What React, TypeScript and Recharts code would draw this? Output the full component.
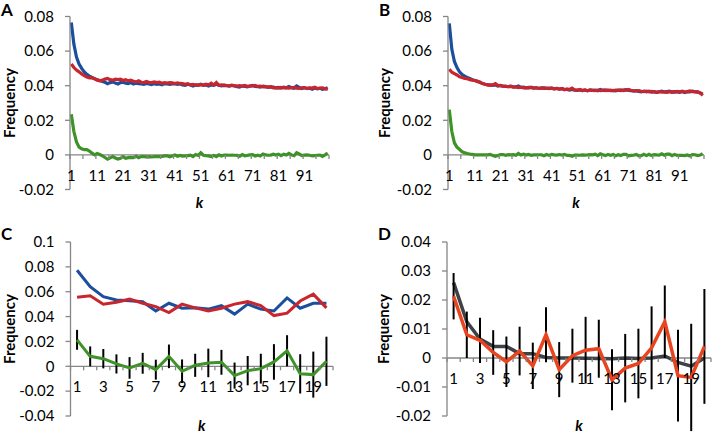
import React from "react";
import {
  LineChart,
  Line,
  XAxis,
  YAxis,
  ReferenceLine,
  ErrorBar,
} from "recharts";

// ---- panel A (k = 1..100) ----
const aBlue = [
  0.0765, 0.064, 0.0565, 0.0525, 0.05, 0.048, 0.0465, 0.0455, 0.0448, 0.044,
  0.0435, 0.043, 0.0425, 0.042, 0.0412, 0.0418, 0.0422, 0.0415, 0.041, 0.0418,
  0.042, 0.0415, 0.0412, 0.0418, 0.041, 0.0415, 0.0412, 0.041, 0.0408, 0.0413,
  0.041, 0.0406, 0.0412, 0.0408, 0.041, 0.0405, 0.0412, 0.041, 0.0407, 0.041,
  0.0412, 0.0408, 0.041, 0.0405, 0.0402, 0.0408, 0.0404, 0.0398, 0.0405, 0.0402,
  0.0408, 0.0402, 0.0404, 0.0398, 0.0405, 0.0402, 0.0408, 0.0403, 0.0399, 0.0402,
  0.04, 0.0397, 0.0402, 0.0398, 0.0395, 0.0392, 0.0399, 0.0396, 0.0393, 0.0398,
  0.0401, 0.0396, 0.0394, 0.0392, 0.0398, 0.0395, 0.039, 0.0393, 0.0392, 0.0388,
  0.039, 0.0386, 0.0392, 0.0388, 0.0395, 0.0388, 0.0385, 0.0398, 0.039, 0.0384,
  0.0388, 0.0384, 0.0386, 0.038, 0.0387, 0.0382, 0.0385, 0.0379, 0.0382, 0.0389,
];
const aRed = [
  0.0525, 0.0505, 0.049, 0.048, 0.0468, 0.0458, 0.045, 0.0445, 0.0445, 0.044,
  0.0432, 0.0428, 0.0432, 0.0438, 0.0442, 0.0435, 0.0432, 0.0438, 0.0435, 0.0438,
  0.043, 0.0435, 0.0428, 0.0432, 0.0426, 0.0422, 0.0428, 0.042, 0.0418, 0.0424,
  0.042, 0.0418, 0.0422, 0.0418, 0.042, 0.0414, 0.0418, 0.0415, 0.0418, 0.0416,
  0.0412, 0.0416, 0.0413, 0.0412, 0.0408, 0.0412, 0.0405, 0.0408, 0.0403, 0.0405,
  0.0406, 0.0404, 0.0409, 0.0404, 0.0415, 0.0405, 0.0418, 0.0402, 0.0405, 0.0403,
  0.0401, 0.0399, 0.0403, 0.04, 0.0398, 0.04, 0.0397, 0.0401, 0.0396, 0.0398,
  0.0399, 0.0402, 0.0396, 0.0398, 0.0393, 0.0395, 0.0392, 0.0394, 0.0388, 0.0389,
  0.0386, 0.039, 0.0388, 0.0389, 0.0386, 0.0388, 0.039, 0.0386, 0.0385, 0.0388,
  0.0389, 0.0384, 0.0388, 0.0386, 0.0391, 0.0384, 0.0386, 0.0388, 0.0382, 0.0379,
];
const aGreen = [
  0.0235, 0.0135, 0.0075, 0.0045, 0.0035, 0.003, 0.003, 0.0022, 0.001, 0.0,
  0.0008, 0.0002, -0.0006, -0.0015, -0.0025, -0.0017, -0.001, -0.0018, -0.0024, -0.002,
  -0.001, -0.002, -0.0016, -0.0014, -0.0016, -0.0007, -0.0016, -0.001, -0.001, -0.0011,
  -0.001, -0.0012, -0.001, -0.001, -0.001, -0.0009, -0.0006, -0.0005, -0.0011, -0.0006,
  0.0, -0.0008, -0.0003, -0.0007, -0.0006, -0.0004, -0.0001, -0.001, 0.0002, -0.0003,
  0.0012, -0.0002, -0.0005, -0.0006, -0.001, -0.0003, -0.001, 0.0001, -0.0006, -0.0001,
  -0.0001, -0.0002, -0.0001, -0.0002, -0.0003, -0.0008, 0.0002, -0.0005, -0.0003, 0.0,
  0.0002, -0.0006, -0.0002, -0.0006, 0.0005, 0.0, -0.0002, -0.0001, 0.0004, -0.0001,
  0.0004, -0.0004, 0.0004, -0.0001, 0.0009, 0.0, -0.0005, 0.0012, 0.0005, -0.0004,
  -0.0001, 0.0, -0.0002, -0.0006, -0.0004, -0.0002, -0.0001, -0.0009, 0.0, 0.001,
];

// ---- panel B (k = 1..100) ----
const bBlue = [
  0.076, 0.061, 0.054, 0.0505, 0.048, 0.0465, 0.0455, 0.0448, 0.0442, 0.0435,
  0.043, 0.0425, 0.042, 0.0412, 0.0408, 0.0405, 0.0405, 0.0402, 0.0404, 0.0398,
  0.0402, 0.0398, 0.0396, 0.0395, 0.0397, 0.0393, 0.0392, 0.0398, 0.039, 0.0392,
  0.0388, 0.039, 0.0389, 0.0386, 0.0388, 0.0385, 0.0387, 0.0384, 0.0386, 0.0383,
  0.0387, 0.0382, 0.0384, 0.0381, 0.0383, 0.0379, 0.0378, 0.0375, 0.0378, 0.0374,
  0.0373, 0.0376, 0.0372, 0.0375, 0.0371, 0.0376, 0.0373, 0.0375, 0.0371, 0.0378,
  0.0374, 0.0372, 0.0375, 0.0371, 0.0373, 0.037, 0.0374, 0.0372, 0.0375, 0.0377,
  0.0373, 0.0371, 0.0369, 0.0372, 0.0367, 0.0364, 0.0369, 0.0365, 0.0368, 0.0363,
  0.0366, 0.0362, 0.0365, 0.0369, 0.0363, 0.0366, 0.0368, 0.0362, 0.0366, 0.0364,
  0.0362, 0.0365, 0.036, 0.0366, 0.0364, 0.0368, 0.0365, 0.0362, 0.0358, 0.0352,
];
const bRed = [
  0.0495, 0.0478, 0.047, 0.0462, 0.0452, 0.0448, 0.0442, 0.044, 0.0435, 0.0432,
  0.043, 0.0425, 0.042, 0.0412, 0.0408, 0.0405, 0.0402, 0.0405, 0.0412, 0.0402,
  0.04, 0.0396, 0.0398, 0.0394, 0.0396, 0.0392, 0.0394, 0.0389, 0.0391, 0.0388,
  0.0389, 0.0387, 0.0391, 0.0386, 0.0388, 0.0384, 0.0386, 0.0389, 0.0384, 0.0386,
  0.0384, 0.0382, 0.0385, 0.0379, 0.0384, 0.0376, 0.0381, 0.0378, 0.0386, 0.0375,
  0.0374, 0.0378, 0.0372, 0.0376, 0.0371, 0.0374, 0.0373, 0.0371, 0.0375, 0.0372,
  0.0373, 0.0376, 0.0372, 0.0374, 0.0371, 0.0375, 0.0373, 0.0376, 0.0372, 0.0374,
  0.0378, 0.0374, 0.0371, 0.0369, 0.0372, 0.0368, 0.0366, 0.0369, 0.0365, 0.0367,
  0.0364, 0.0362, 0.0366, 0.0363, 0.0365, 0.0362, 0.0364, 0.0366, 0.0363, 0.0367,
  0.0365, 0.0368, 0.0364, 0.0366, 0.037, 0.0366, 0.0364, 0.0366, 0.0359, 0.0344,
];
const bGreen = [
  0.0262, 0.0135, 0.007, 0.0045, 0.0032, 0.0018, 0.0013, 0.0008, 0.0005, 0.0003,
  0.0, 0.0, 0.0, 0.0, 0.0, 0.0, 0.0003, -0.0003, -0.0008, -0.0004,
  0.0002, 0.0002, -0.0002, 0.0001, 0.0, 0.0001, -0.0002, 0.0009, -0.0001, 0.0004,
  -0.0001, 0.0003, -0.0002, 0.0, 0.0, 0.0001, 0.0001, -0.0005, 0.0002, -0.0003,
  0.0003, 0.0, -0.0001, 0.0002, -0.0001, 0.0003, -0.0003, -0.0003, -0.0008, -0.0001,
  -0.0001, -0.0002, 0.0, -0.0001, 0.0, 0.0002, 0.0, 0.0004, -0.0004, 0.0006,
  0.0001, -0.0004, 0.0003, -0.0003, 0.0002, -0.0005, 0.0001, -0.0004, 0.0003, 0.0003,
  -0.0005, -0.0003, -0.0002, 0.0003, -0.0005, -0.0004, 0.0003, -0.0004, 0.0003, -0.0004,
  0.0002, 0.0, -0.0001, 0.0006, -0.0002, 0.0004, 0.0004, -0.0004, 0.0003, -0.0003,
  -0.0003, -0.0003, -0.0004, 0.0, -0.0006, 0.0002, 0.0001, -0.0004, -0.0001, 0.0008,
];

// ---- panels C and D (k = 1..20) ----
const cBlue = [
  0.0773, 0.064, 0.056, 0.0533, 0.0528, 0.052, 0.0445, 0.0507, 0.0467, 0.047,
  0.046, 0.0488, 0.042, 0.05, 0.046, 0.0445, 0.055, 0.0467, 0.0507, 0.0507,
];
const cRed = [
  0.0555, 0.0568, 0.05, 0.0515, 0.054, 0.0507, 0.048, 0.0432, 0.05, 0.047,
  0.0445, 0.0467, 0.05, 0.052, 0.0488, 0.0408, 0.0427, 0.0525, 0.058, 0.047,
];
const cGreen = [
  0.0213, 0.008, 0.0061, 0.0019, -0.0013, 0.0024, -0.0027, 0.008, -0.004, 0.0008,
  0.0027, 0.0032, -0.0075, -0.0035, -0.0019, 0.0035, 0.0125, -0.0061, -0.0067, 0.004,
];
const cErr = [
  0.008, 0.008, 0.0078, 0.0077, 0.0087, 0.0084, 0.008, 0.0095, 0.0095, 0.0093,
  0.0115, 0.01, 0.0105, 0.0118, 0.012, 0.0143, 0.0125, 0.0158, 0.0185, 0.0198,
];
const dGray = [
  0.026, 0.0125, 0.0065, 0.004, 0.004, 0.0015, 0.0015, 0.0002, 0.0, 0.0,
  -0.0001, -0.0002, -0.0003, 0.0, -0.0002, 0.0, 0.0007, -0.0015, -0.0028, 0.0,
];

const abYTicks = [-0.02, 0, 0.02, 0.04, 0.06, 0.08];
const cYTicks = [-0.04, -0.02, 0, 0.02, 0.04, 0.06, 0.08, 0.1];
const dYTicks = [-0.02, -0.01, 0, 0.01, 0.02, 0.03, 0.04];
const abXLabels = [1, 11, 21, 31, 41, 51, 61, 71, 81, 91];
const abXMarks = [0.5, 5.5, 10.5, 15.5, 20.5, 25.5, 30.5, 35.5, 40.5, 45.5, 50.5,
  55.5, 60.5, 65.5, 70.5, 75.5, 80.5, 85.5, 90.5, 95.5, 100.5];
const cdXLabels = [1, 3, 5, 7, 9, 11, 13, 15, 17, 19];
const cdXMarks = [0.5, 1.5, 2.5, 3.5, 4.5, 5.5, 6.5, 7.5, 8.5, 9.5, 10.5,
  11.5, 12.5, 13.5, 14.5, 15.5, 16.5, 17.5, 18.5, 19.5, 20.5];

const aData = aBlue.map((v, i) => ({ k: i + 1, blue: v, red: aRed[i], green: aGreen[i] }));
const bData = bBlue.map((v, i) => ({ k: i + 1, blue: v, red: bRed[i], green: bGreen[i] }));
const cData = cBlue.map((v, i) => ({ k: i + 1, blue: v, red: cRed[i], green: cGreen[i], err: cErr[i] }));
const dData = dGray.map((v, i) => ({ k: i + 1, gray: v, red: cGreen[i], err: cErr[i] }));

const FONT = "Lato, 'Open Sans', sans-serif";
const AXIS = "#868686";
const BLUE = "#1c4e9e";
const RED = "#c8262c";
const GREEN = "#3e9328";
const ORANGE = "#e8441e";
const GRAY = "#3e4246";

const fmt = (v: number) => (v === 0 ? "0" : String(Number(v.toFixed(3))));

// x labels sit just under the zero line, not at the bottom of the plot
function makeXTick(zeroOffset: number) {
  return (props: any) => {
    const { x, y, payload } = props;
    const v = payload.value;
    const y0 = y - zeroOffset;
    if (!Number.isInteger(v)) {
      return <line x1={x} x2={x} y1={y0} y2={y0 + 4} stroke={AXIS} strokeWidth={1.3} />;
    }
    return (
      <text x={x} y={y0 + 26} textAnchor="middle" fontSize={15} fontFamily={FONT} fill="#000">
        {v}
      </text>
    );
  };
}

type PanelProps = {
  left: number;
  top: number;
  width: number;
  marginTop: number;
  marginRight: number;
  yAxisWidth: number;
  xAxisHeight: number;
  yDomain: [number, number];
  yTicks: number[];
  xDomain: [number, number];
  xTicks: number[];
  freqOffset: number;
  kOffset: number;
  letter: string;
  letterTop: number;
  letterLeft: number;
  data: any[];
  children: React.ReactNode;
};

function Panel(p: PanelProps) {
  const height = 217;
  const plotH = height - p.marginTop - p.xAxisHeight;
  const zeroOffset = (plotH * (0 - p.yDomain[0])) / (p.yDomain[1] - p.yDomain[0]);
  return (
    <div style={{ position: "absolute", left: p.left, top: p.top, width: p.width, height }}>
      <LineChart
        width={p.width}
        height={height}
        data={p.data}
        margin={{ top: p.marginTop, right: p.marginRight, bottom: 0, left: 0 }}
      >
        <ReferenceLine y={0} stroke={AXIS} strokeWidth={1.3} />
        <XAxis
          dataKey="k"
          type="number"
          domain={p.xDomain}
          ticks={p.xTicks}
          interval={0}
          axisLine={false}
          tickLine={false}
          tickSize={0}
          tickMargin={0}
          height={p.xAxisHeight}
          tick={makeXTick(zeroOffset)}
          label={{
            value: "k",
            position: "insideBottom",
            offset: p.kOffset,
            style: { fontSize: 15, fontWeight: 700, fontStyle: "italic", fill: "#000", fontFamily: FONT },
          }}
        />
        <YAxis
          type="number"
          domain={p.yDomain}
          ticks={p.yTicks}
          allowDataOverflow
          interval={0}
          width={p.yAxisWidth}
          tickFormatter={fmt}
          tickSize={5}
          tickMargin={11}
          axisLine={{ stroke: AXIS, strokeWidth: 1.3 }}
          tickLine={{ stroke: AXIS, strokeWidth: 1.3 }}
          tick={{ fontSize: 15, fill: "#000", fontFamily: FONT }}
          label={{
            value: "Frequency",
            angle: -90,
            position: "insideLeft",
            offset: p.freqOffset,
            style: { textAnchor: "middle", fontSize: 15, fontWeight: 700, fill: "#000", fontFamily: FONT },
          }}
        />
        {p.children}
      </LineChart>
      <div
        style={{
          position: "absolute",
          left: p.letterLeft,
          top: p.letterTop,
          fontFamily: FONT,
          fontWeight: 700,
          fontSize: 17,
          lineHeight: "17px",
        }}
      >
        {p.letter}
      </div>
    </div>
  );
}

export default function App() {
  const abTicks = [...abXMarks, ...abXLabels].sort((a, b) => a - b);
  const cdTicks = [...cdXMarks, ...cdXLabels].sort((a, b) => a - b);
  return (
    <div style={{ position: "absolute", left: 0, top: 0, width: 712, height: 434, background: "#fff", overflow: "hidden" }}>
      <Panel
        left={0} top={0} width={340} marginTop={16.5} marginRight={11}
        yAxisWidth={70} xAxisHeight={27.5} yDomain={[-0.02, 0.08]} yTicks={abYTicks}
        xDomain={[0.5, 100.5]} xTicks={abTicks} freqOffset={9.5} kOffset={9}
        letter="A" letterLeft={1} letterTop={1} data={aData}
      >
        <Line dataKey="blue" stroke={BLUE} strokeWidth={3.2} dot={false} isAnimationActive={false} />
        <Line dataKey="red" stroke={RED} strokeWidth={3.2} dot={false} isAnimationActive={false} />
        <Line dataKey="green" stroke={GREEN} strokeWidth={3.2} dot={false} isAnimationActive={false} />
      </Panel>
      <Panel
        left={374} top={0} width={338} marginTop={16.5} marginRight={8}
        yAxisWidth={74} xAxisHeight={27.5} yDomain={[-0.02, 0.08]} yTicks={abYTicks}
        xDomain={[0.5, 100.5]} xTicks={abTicks} freqOffset={11} kOffset={9}
        letter="B" letterLeft={5} letterTop={1} data={bData}
      >
        <Line dataKey="blue" stroke={BLUE} strokeWidth={3.2} dot={false} isAnimationActive={false} />
        <Line dataKey="red" stroke={RED} strokeWidth={3.2} dot={false} isAnimationActive={false} />
        <Line dataKey="green" stroke={GREEN} strokeWidth={3.2} dot={false} isAnimationActive={false} />
      </Panel>
      <Panel
        left={0} top={217} width={345} marginTop={25} marginRight={12}
        yAxisWidth={70.5} xAxisHeight={18} yDomain={[-0.04, 0.1]} yTicks={cYTicks}
        xDomain={[0.5, 20.5]} xTicks={cdTicks} freqOffset={9.5} kOffset={3}
        letter="C" letterLeft={1} letterTop={8} data={cData}
      >
        <Line dataKey="blue" stroke={BLUE} strokeWidth={3} dot={false} isAnimationActive={false} />
        <Line dataKey="red" stroke={RED} strokeWidth={3} dot={false} isAnimationActive={false} />
        <Line dataKey="green" stroke={GREEN} strokeWidth={3} dot={false} isAnimationActive={false}>
          <ErrorBar dataKey="err" width={0} stroke="#000" strokeWidth={2} direction="y" />
        </Line>
      </Panel>
      <Panel
        left={372} top={217} width={340} marginTop={25} marginRight={1}
        yAxisWidth={75} xAxisHeight={18} yDomain={[-0.02, 0.04]} yTicks={dYTicks}
        xDomain={[0.5, 20.5]} xTicks={cdTicks} freqOffset={11.5} kOffset={3}
        letter="D" letterLeft={6} letterTop={8} data={dData}
      >
        <Line dataKey="gray" stroke={GRAY} strokeWidth={3.5} dot={false} isAnimationActive={false} />
        <Line dataKey="red" stroke={ORANGE} strokeWidth={3.5} dot={false} isAnimationActive={false}>
          <ErrorBar dataKey="err" width={0} stroke="#000" strokeWidth={2} direction="y" />
        </Line>
      </Panel>
    </div>
  );
}
